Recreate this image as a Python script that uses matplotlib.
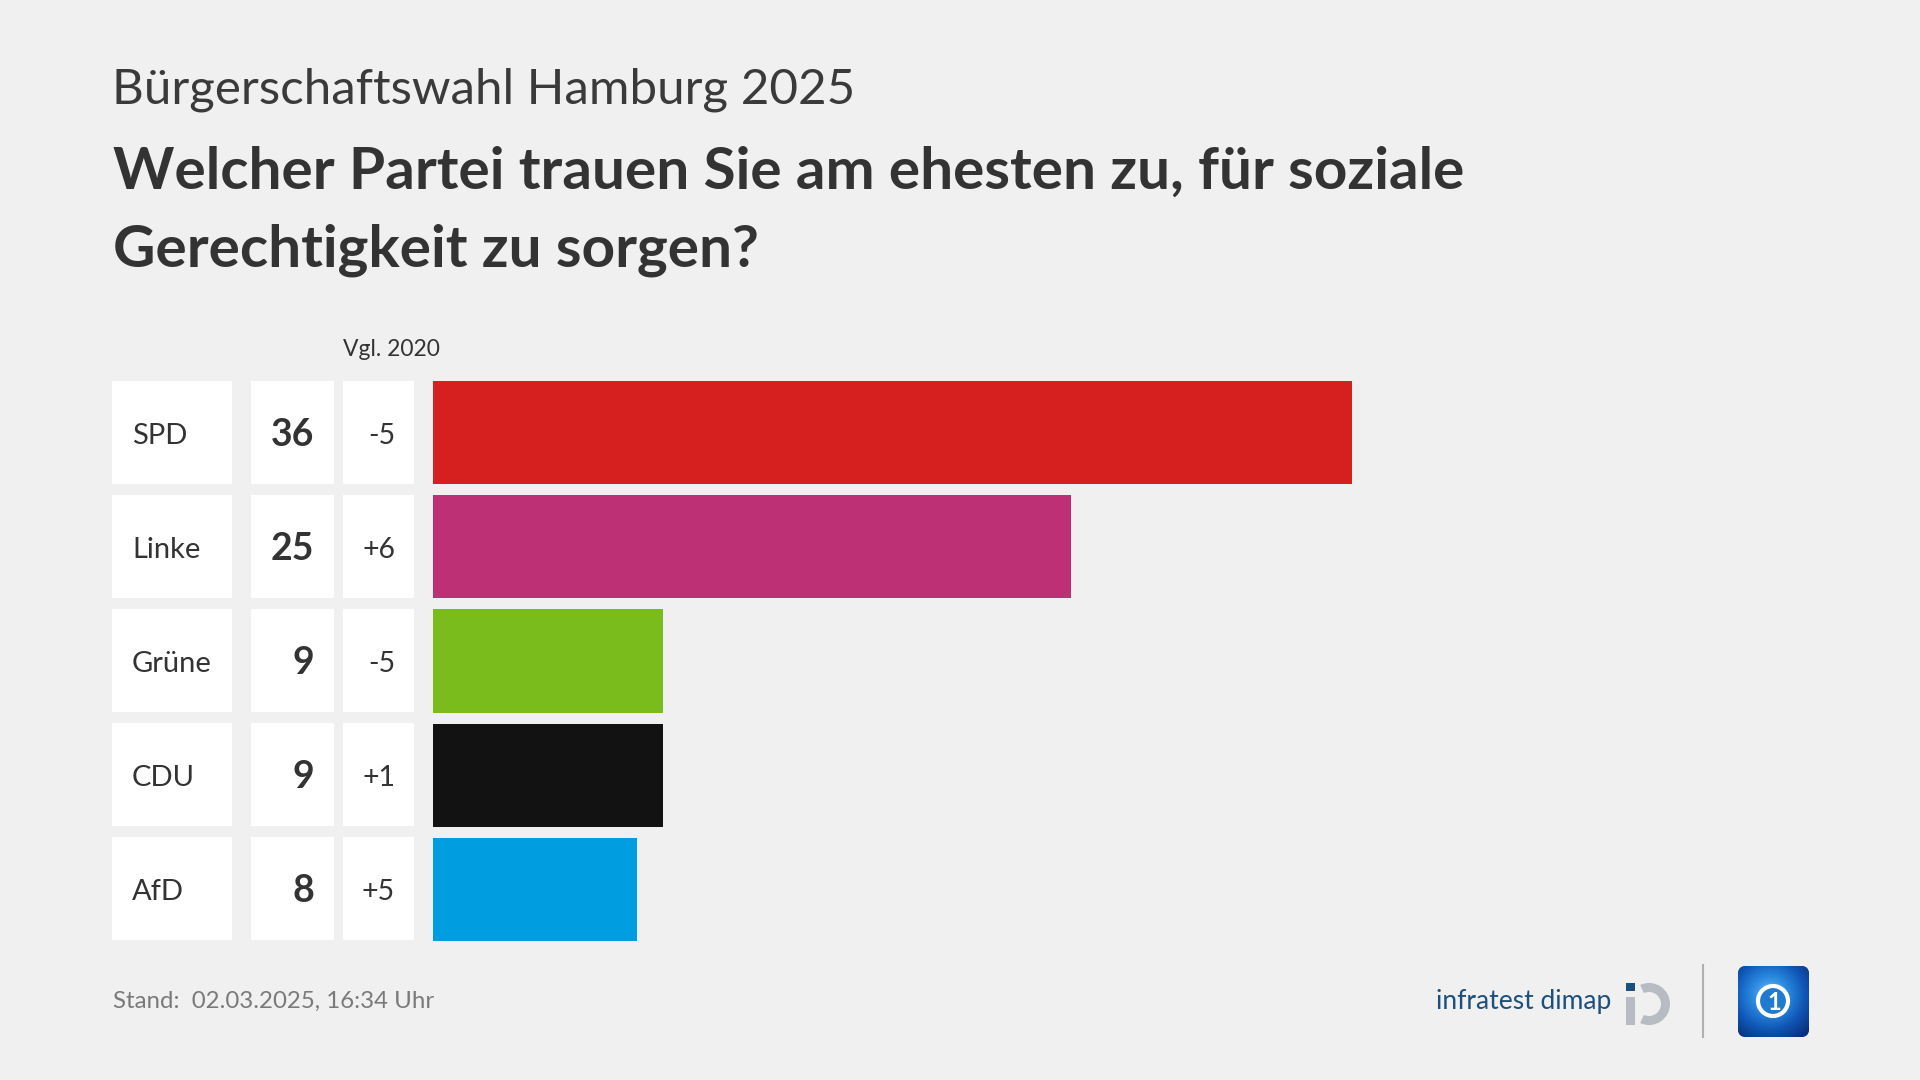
import matplotlib
matplotlib.use("Agg")
import matplotlib.pyplot as plt
import numpy as np
from matplotlib.patches import Rectangle, FancyBboxPatch, Wedge, Circle
from matplotlib.colors import LinearSegmentedColormap

# data
parties = ["SPD", "Linke", "Grüne", "CDU", "AfD"]
values = [36, 25, 9, 9, 8]
changes = ["-5", "+6", "-5", "+1", "+5"]
colors = ["#d6201f", "#be3076", "#79bc1c", "#121212", "#009ee0"]

subtitle = "Bürgerschaftswahl Hamburg 2025"
title_lines = ["Welcher Partei trauen Sie am ehesten zu, für soziale",
               "Gerechtigkeit zu sorgen?"]
compare_label = "Vgl. 2020"
footer = "Stand:  02.03.2025, 16:34 Uhr"

BG = "#f0f0f0"
TXT = "#333333"
FONT = "Lato"

fig = plt.figure(figsize=(19.2, 10.8), dpi=100, facecolor=BG)

# full-figure axes in pixel coordinates for table, texts and logos
ax0 = fig.add_axes([0, 0, 1, 1])
ax0.set_xlim(0, 1920)
ax0.set_ylim(1080, 0)
ax0.axis("off")
ax0.set_facecolor(BG)

ax0.text(112, 90, subtitle, fontsize=35.5, family=FONT, weight="normal",
         color="#3a3a3a", va="center", ha="left")
for k, line in enumerate(title_lines):
    ax0.text(113, 172 + k * 78, line, fontsize=42.1, family=FONT, weight="bold",
             color=TXT, va="center", ha="left")

ax0.text(343, 349, compare_label, fontsize=16.5, family=FONT, color=TXT,
         va="center", ha="left")

row_top, row_pitch, row_h = 381, 114, 103
for i, (p, v, c) in enumerate(zip(parties, values, changes)):
    top = row_top + i * row_pitch
    yc = top + row_h / 2 + 3
    for x0, x1 in [(112, 232), (251, 334), (343, 414)]:
        ax0.add_patch(Rectangle((x0, top), x1 - x0, row_h, facecolor="white",
                                edgecolor="none"))
    ax0.text(132, yc, p, fontsize=21, family=FONT, color=TXT,
             va="center", ha="left")
    ax0.text(314, yc, str(v), fontsize=27, family=FONT, weight="bold",
             color=TXT, va="center", ha="right")
    ax0.text(395, yc, c, fontsize=20.5, family=FONT, color=TXT,
             va="center", ha="right")

# bars
bax = fig.add_axes([433 / 1920, 1 - 946.5 / 1080, 919 / 1920, 571 / 1080])
bax.barh(range(len(values)), values, height=row_h / row_pitch, color=colors)
bax.set_xlim(0, max(values))
bax.set_ylim(len(values) - 0.5, -0.5)
bax.axis("off")

# footer
ax0.text(113, 1001, footer, fontsize=17.3, family=FONT, color="#7a7a7a",
         va="center", ha="left")
ax0.text(1436, 1002, "infratest dimap", fontsize=19, family=FONT,
         color="#1d4f7c", va="center", ha="left")

# infratest dimap mark
ax0.add_patch(Rectangle((1626, 983), 9, 8, facecolor="#1d4f7c", edgecolor="none"))
ax0.add_patch(Rectangle((1626, 997), 9, 28, facecolor="#b6bcc2", edgecolor="none"))
ax0.add_patch(Wedge((1649, 1004), 21, -115, 115, width=9,
                    facecolor="#b6bcc2", edgecolor="none"))

# separator
ax0.plot([1703, 1703], [965, 1037], color="#b0b0b0", lw=1.5)

# tagesschau-style icon
box = FancyBboxPatch((1738, 966), 71, 71, boxstyle="round,pad=0,rounding_size=8",
                     facecolor="#0a3f90", edgecolor="none")
ax0.add_patch(box)
gy, gx = np.mgrid[0:1:80j, 0:1:80j]
grad = np.sqrt((gx - 0.45) ** 2 + (gy - 0.4) ** 2)
blues = LinearSegmentedColormap.from_list(
    "ts", ["#6cc0f5", "#2a8ae0", "#0f56b5", "#08307a"])
im = ax0.imshow(grad, extent=(1738, 1809, 1037, 966), cmap=blues,
                vmin=0.0, vmax=0.75, interpolation="bilinear", zorder=3)
im.set_clip_path(box)
ax0.add_patch(Circle((1773, 1001), 15, facecolor="#1f7ad0", edgecolor="white",
                     lw=3, zorder=4))
ax0.text(1774, 1002, "1", fontsize=17, family=FONT, weight="bold",
         color="white", va="center", ha="center", zorder=5)
ax0.set_xlim(0, 1920)
ax0.set_ylim(1080, 0)

fig.savefig("out.png", dpi=100, facecolor=BG)
